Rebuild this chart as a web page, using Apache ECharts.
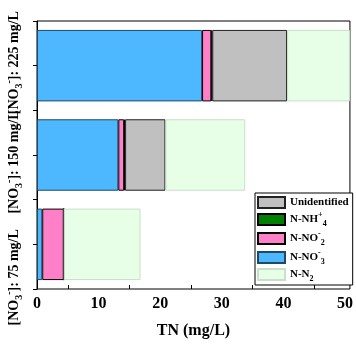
<!DOCTYPE html>
<html lang="en" style="height: 100%">
<head>
  <meta charset="utf-8">
</head>
<body style="height: 100%; margin: 0">
  <div id="container" style="width: 356px; height: 346px"></div>

  <script type="text/javascript" src="https://fastly.jsdelivr.net/npm/echarts@6.0.0/dist/echarts.min.js"></script>
  <script type="text/javascript">
    var dom = document.getElementById('container');
    var myChart = echarts.init(dom, null, { renderer: 'canvas' });

// bottom -> top: [NO3-] 75, 150, 225 mg/L
var categories = ['75', '150', '225'];
var no3 = [0.85, 13.2, 26.8];
var no2 = [3.5, 0.95, 1.5];
var nh4 = [0, 0.15, 0.15];
var unidentified = [0, 6.55, 12.15];
var n2 = [12.45, 12.95, 10.2];
var xTicks = [0, 10, 20, 30, 40, 50];

var font = 'Liberation Serif';
function subStyle(size) {
  return { fontFamily: font, fontWeight: 'bold', fontSize: size, verticalAlign: 'bottom', padding: [0, 0, -3, 0] };
}
function supStyle(size) {
  return { fontFamily: font, fontWeight: 'bold', fontSize: size, verticalAlign: 'top', padding: [-3, 0, 0, 0] };
}

function bar(name, data, color, border) {
  return {
    name: name,
    type: 'bar',
    stack: 'tn',
    barWidth: '80%',
    data: data,
    itemStyle: { color: color, borderColor: border, borderWidth: 1 }
  };
}

var option = {
  animation: false,
  grid: { left: 37, right: 3, top: 21, bottom: 57, show: true, borderColor: '#000', borderWidth: 1 },
  legend: {
    orient: 'vertical',
    left: 255,
    top: 193,
    icon: 'rect',
    itemWidth: 27,
    itemHeight: 11,
    itemGap: 2,
    padding: [3, 4, 2, 2],
    borderColor: '#000',
    borderWidth: 1,
    backgroundColor: '#fff',
    data: ['Unidentified', 'N-NH4', 'N-NO2', 'N-NO3', 'N-N2'],
    formatter: function (n) {
      if (n === 'N-NH4') return 'N-NH{sup|+}{sub|4}';
      if (n === 'N-NO2') return 'N-NO{sup|-}{sub|2}';
      if (n === 'N-NO3') return 'N-NO{sup|-}{sub|3}';
      if (n === 'N-N2') return 'N-N{sub|2}';
      return n;
    },
    textStyle: {
      fontFamily: font, fontWeight: 'bold', fontSize: 11, color: '#000',
      rich: { sub: subStyle(8), sup: supStyle(8) }
    }
  },
  xAxis: {
    type: 'value',
    min: 0,
    max: 50.8,
    interval: 10,
    name: 'TN (mg/L)',
    nameLocation: 'middle',
    nameGap: 34,
    nameTextStyle: { fontFamily: font, fontWeight: 'bold', fontSize: 16, color: '#000' },
    axisLine: { lineStyle: { color: '#000', width: 1 } },
    axisTick: { inside: true, length: 4, lineStyle: { color: '#000' } },
    minorTick: { show: true, splitNumber: 2, length: 4, lineStyle: { color: '#000' } },
    splitLine: { show: false },
    axisLabel: {
      margin: 7,
      showMaxLabel: false,
      fontFamily: font, fontWeight: 'bold', fontSize: 16, color: '#000',
      formatter: function (v) { return xTicks.indexOf(v) >= 0 ? String(v) : ''; }
    }
  },
  yAxis: [
    {
      type: 'category',
      data: [
        { value: categories[0], textStyle: { padding: [0, 66, 0, 0] } },
        { value: categories[1], textStyle: { padding: [0, 14, 0, 0] } },
        { value: categories[2], textStyle: { padding: [0, 0, 0, 6] } }
      ],
      axisLine: { lineStyle: { color: '#000' } },
      axisTick: { show: true, length: 4, lineStyle: { color: '#000' } },
      axisLabel: {
        rotate: 90,
        margin: 16,
        interval: 0,
        fontFamily: font, fontWeight: 'bold', fontSize: 14, color: '#000',
        formatter: function (v) { return '[NO{sub|3}{sup|-}]: ' + v + ' mg/L'; },
        rich: { sub: subStyle(10), sup: supStyle(10) }
      }
    },
    {
      type: 'category',
      position: 'left',
      data: categories,
      axisLine: { show: false },
      axisTick: { show: true, alignWithLabel: true, length: 4, lineStyle: { color: '#000' } },
      axisLabel: { show: false }
    }
  ],
  series: [
    bar('N-NO3', no3, '#4db8ff', '#1f4a66'),
    bar('N-NO2', no2, '#ff80c8', '#000'),
    bar('N-NH4', nh4, '#008000', '#000'),
    bar('Unidentified', unidentified, '#c0c0c0', '#222'),
    bar('N-N2', n2, '#e6ffe6', '#c8e0c8')
  ]
};

myChart.setOption(option);
  </script>
</body>
</html>
